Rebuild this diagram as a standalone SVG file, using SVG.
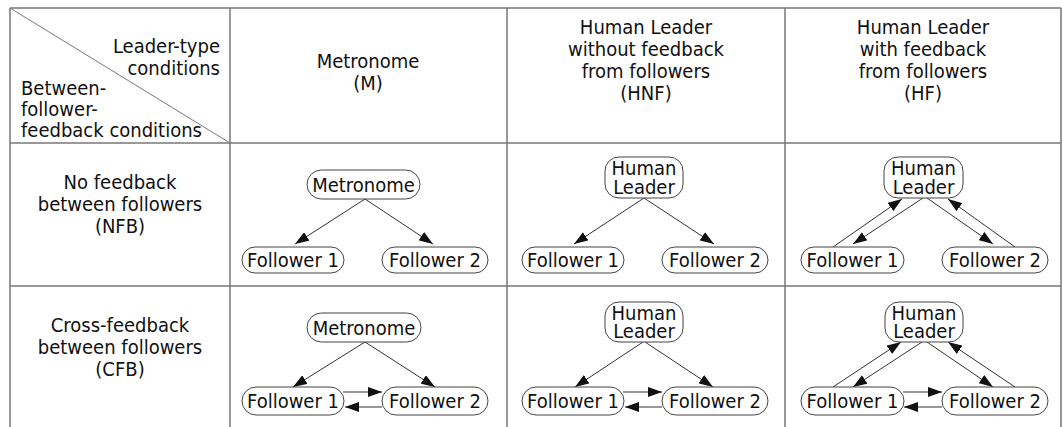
<svg xmlns="http://www.w3.org/2000/svg" width="1063" height="427" viewBox="0 0 1063 427">
<style>
  text { font-family: "DejaVu Sans Condensed", "DejaVu Sans", Verdana, sans-serif; font-stretch: condensed; font-size: 20px; fill: #111; }
  .c { text-anchor: middle; }
  .grid line { stroke: #777; stroke-width: 1.5; }
  .node rect { fill: #fff; stroke: #444; stroke-width: 1; }
  .edges line { stroke: #333; stroke-width: 1; marker-end: url(#ah); }
</style>
<defs>
  <marker id="ah" markerUnits="userSpaceOnUse" markerWidth="14" markerHeight="10" refX="14" refY="5" orient="auto">
    <path d="M0,0 L14,5 L0,10 z" fill="#111"/>
  </marker>
</defs>
<rect width="1063" height="427" fill="#fff"/>
<g id="table" class="grid">
  <line x1="10" y1="8" x2="1061" y2="8"/>
  <line x1="10" y1="143" x2="1061" y2="143"/>
  <line x1="10" y1="286" x2="1061" y2="286"/>
  <line x1="10" y1="8" x2="10" y2="427"/>
  <line x1="230" y1="8" x2="230" y2="427"/>
  <line x1="507" y1="8" x2="507" y2="427"/>
  <line x1="785" y1="8" x2="785" y2="427"/>
  <line x1="1061" y1="8" x2="1061" y2="427"/>
  <line x1="10" y1="8" x2="230" y2="143" style="stroke-width:1"/>
</g>
<g id="headers">
  <text x="220" y="53" text-anchor="end">Leader-type</text>
  <text x="220" y="75" text-anchor="end">conditions</text>
  <text x="21" y="95">Between-</text>
  <text x="21" y="116">follower-</text>
  <text x="21" y="137">feedback conditions</text>
  <text class="c" x="368" y="68">Metronome</text>
  <text class="c" x="368" y="90">(M)</text>
  <text class="c" x="646" y="34">Human Leader</text>
  <text class="c" x="646" y="56">without feedback</text>
  <text class="c" x="646" y="78">from followers</text>
  <text class="c" x="646" y="100">(HNF)</text>
  <text class="c" x="923" y="34">Human Leader</text>
  <text class="c" x="923" y="56">with feedback</text>
  <text class="c" x="923" y="78">from followers</text>
  <text class="c" x="923" y="100">(HF)</text>
  <text class="c" x="120" y="189">No feedback</text>
  <text class="c" x="120" y="211">between followers</text>
  <text class="c" x="120" y="233">(NFB)</text>
  <text class="c" x="120" y="332">Cross-feedback</text>
  <text class="c" x="120" y="354">between followers</text>
  <text class="c" x="120" y="376">(CFB)</text>
</g>
<g id="edges" class="edges">
  <line x1="365" y1="199" x2="295" y2="244"/>
  <line x1="365" y1="199" x2="433" y2="244"/>
  <line x1="644" y1="198" x2="574" y2="244"/>
  <line x1="644" y1="198" x2="714" y2="244"/>
  <line x1="923" y1="198" x2="853" y2="244"/>
  <line x1="833" y1="247" x2="902" y2="199"/>
  <line x1="927" y1="198" x2="993" y2="244"/>
  <line x1="1015" y1="247" x2="948" y2="199"/>
  <line x1="365" y1="342" x2="293" y2="387"/>
  <line x1="365" y1="342" x2="435" y2="387"/>
  <line x1="343" y1="392" x2="382" y2="392"/>
  <line x1="382" y1="407" x2="345" y2="407"/>
  <line x1="643" y1="342" x2="575" y2="387"/>
  <line x1="645" y1="342" x2="713" y2="387"/>
  <line x1="623" y1="392" x2="662" y2="392"/>
  <line x1="662" y1="407" x2="625" y2="407"/>
  <line x1="922" y1="342" x2="853" y2="387"/>
  <line x1="833" y1="387" x2="901" y2="342"/>
  <line x1="927" y1="342" x2="993" y2="387"/>
  <line x1="1015" y1="387" x2="948" y2="342"/>
  <line x1="903" y1="392" x2="942" y2="392"/>
  <line x1="942" y1="407" x2="904" y2="407"/>
</g>
<g id="m-nfb" class="node"><rect x="307" y="170" width="113" height="29" rx="14.5"/><text class="c" x="363.5" y="192">Metronome</text></g>
<g id="m-nfb-f1" class="node"><rect x="242" y="247" width="102" height="26" rx="13"/><text class="c" x="293" y="267">Follower 1</text></g>
<g id="m-nfb-f2" class="node"><rect x="382" y="247" width="106" height="26" rx="13"/><text class="c" x="435" y="267">Follower 2</text></g>
<g id="hnf-nfb" class="node"><rect x="605" y="157" width="78" height="41" rx="14"/><text class="c" x="644" y="175">Human<tspan x="644" dy="19">Leader</tspan></text></g>
<g id="hnf-nfb-f1" class="node"><rect x="522" y="247" width="102" height="26" rx="13"/><text class="c" x="573" y="267">Follower 1</text></g>
<g id="hnf-nfb-f2" class="node"><rect x="662" y="247" width="106" height="26" rx="13"/><text class="c" x="715" y="267">Follower 2</text></g>
<g id="hf-nfb" class="node"><rect x="884" y="157" width="79" height="41" rx="14"/><text class="c" x="923.5" y="175">Human<tspan x="923.5" dy="19">Leader</tspan></text></g>
<g id="hf-nfb-f1" class="node"><rect x="801" y="247" width="103" height="26" rx="13"/><text class="c" x="852.5" y="267">Follower 1</text></g>
<g id="hf-nfb-f2" class="node"><rect x="942" y="247" width="106" height="26" rx="13"/><text class="c" x="995" y="267">Follower 2</text></g>
<g id="m-cfb" class="node"><rect x="307" y="313" width="114" height="29" rx="14.5"/><text class="c" x="364" y="335">Metronome</text></g>
<g id="m-cfb-f1" class="node"><rect x="242" y="387" width="102" height="28" rx="14"/><text class="c" x="293" y="408">Follower 1</text></g>
<g id="m-cfb-f2" class="node"><rect x="382" y="387" width="106" height="28" rx="14"/><text class="c" x="435" y="408">Follower 2</text></g>
<g id="hnf-cfb" class="node"><rect x="605" y="302" width="78" height="40" rx="14"/><text class="c" x="644" y="320">Human<tspan x="644" dy="18">Leader</tspan></text></g>
<g id="hnf-cfb-f1" class="node"><rect x="522" y="387" width="102" height="28" rx="14"/><text class="c" x="573" y="408">Follower 1</text></g>
<g id="hnf-cfb-f2" class="node"><rect x="662" y="387" width="106" height="28" rx="14"/><text class="c" x="715" y="408">Follower 2</text></g>
<g id="hf-cfb" class="node"><rect x="885" y="302" width="78" height="40" rx="14"/><text class="c" x="924" y="320">Human<tspan x="924" dy="18">Leader</tspan></text></g>
<g id="hf-cfb-f1" class="node"><rect x="801" y="387" width="103" height="28" rx="14"/><text class="c" x="852.5" y="408">Follower 1</text></g>
<g id="hf-cfb-f2" class="node"><rect x="942" y="387" width="106" height="28" rx="14"/><text class="c" x="995" y="408">Follower 2</text></g>
</svg>
